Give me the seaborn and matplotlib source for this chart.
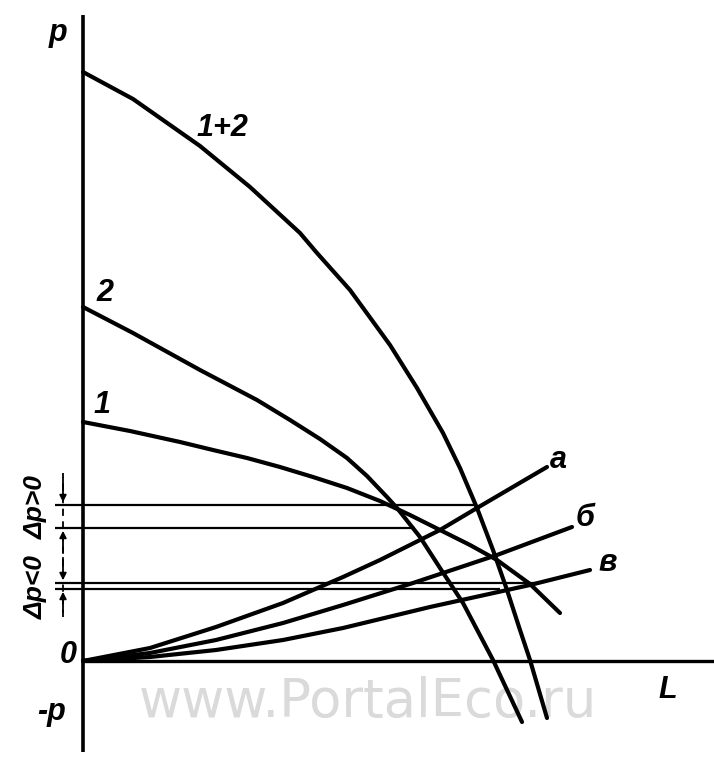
import matplotlib
matplotlib.use("Agg")
import matplotlib.pyplot as plt
import seaborn as sns

# координаты снимались с картинки: L вправо от оси p, p вверх от оси L
# кривая 1+2 (суммарная)
L_sum = [0, 50, 117, 167, 217, 234, 267, 307, 334, 360, 377, 394, 410, 424, 437, 447, 464]
p_sum = [589, 562, 515, 474, 428, 408, 371, 316, 273, 228, 193, 153, 111, 71, 31, 1, -57]
# кривая 2
L_2 = [0, 50, 117, 174, 207, 237, 264, 284, 304, 314, 337, 357, 380, 410, 439]
p_2 = [354, 328, 291, 261, 241, 222, 203, 185, 164, 153, 124, 93, 58, 1, -61]
# кривая 1
L_1 = [0, 47, 97, 130, 164, 197, 230, 264, 297, 327, 357, 387, 414, 447, 477]
p_1 = [239, 230, 219, 211, 203, 194, 184, 173, 160, 146, 131, 116, 101, 77, 48]
# характеристики сети a, б, в
L_a = [0, 67, 133, 200, 260, 297, 357, 394, 464]
p_a = [0, 13, 34, 58, 84, 101, 131, 153, 194]
L_b = [0, 67, 133, 200, 260, 330, 414, 489]
p_b = [0, 8, 21, 38, 56, 78, 106, 134]
L_v = [0, 67, 133, 200, 260, 347, 447, 507]
p_v = [0, 4, 11, 21, 33, 54, 76, 91]
# горизонтали рабочих давлений
levels = [156, 133, 78, 72]
level_ends = [394, 332, 454, 417]

sns.set_style("white")
plt.rcParams['font.family'] = ['Liberation Sans', 'DejaVu Sans']

fig = plt.figure(figsize=(7.14, 7.66), dpi=100)
ax = fig.add_axes([0, 0, 1, 1])
ax.set_xlim(-83, 631)
ax.set_ylim(-105, 661)
ax.axis('off')

# оси
ax.plot([0, 0], [-91, 646], color='black', lw=2.6, solid_capstyle='butt')
ax.plot([0, 631], [0, 0], color='black', lw=2.4, solid_capstyle='butt')

lw_curve = 3.0
for xs, ys in [(L_sum, p_sum), (L_2, p_2), (L_1, p_1), (L_a, p_a), (L_b, p_b), (L_v, p_v)]:
    sns.lineplot(x=xs, y=ys, sort=False, color='black', lw=lw_curve, ax=ax,
                 solid_capstyle='round', solid_joinstyle='round')

ax.hlines(levels, -28, level_ends, color='black', lw=1.6)

# размерная линия слева
ax.plot([-20, -20], [44, 188], color='black', lw=1.3, ls=(0, (4, 3)))
arr = dict(arrowstyle='-|>', color='black', lw=1.3, mutation_scale=10)
ax.annotate('', xy=(-20, levels[0]), xytext=(-20, 186), arrowprops=arr)
ax.annotate('', xy=(-20, levels[1]), xytext=(-20, 106), arrowprops=arr)
ax.annotate('', xy=(-20, levels[2]), xytext=(-20, 106), arrowprops=arr)
ax.annotate('', xy=(-20, levels[3]), xytext=(-20, 46), arrowprops=arr)

tk = dict(color='black', style='italic', fontweight='bold', fontsize=22,
          ha='center', va='center')
ax.text(-25, 628, 'p', **tk)
ax.text(139, 533, '1+2', **tk)
ax.text(22, 368, '2', **tk)
ax.text(19, 256, '1', **tk)
ax.text(-15, 6, '0', **tk)
ax.text(-31, -51, '-p', **tk)
ax.text(585, -29, 'L', **tk)
ax.text(475, 201, 'a', **tk)
ax.text(502, 143, 'б', **tk)
ax.text(525, 98, 'в', **tk)
tk_small = dict(tk, fontsize=19)
ax.text(-47, 154, 'Δp>0', rotation=90, **tk_small)
ax.text(-47, 74, 'Δp<0', rotation=90, **tk_small)

ax.text(285, -41, 'www.PortalEco.ru', color='#dadada', fontsize=38,
        family='DejaVu Sans', ha='center', va='center', zorder=0)

fig.savefig('out.png', dpi=100, facecolor='white')
